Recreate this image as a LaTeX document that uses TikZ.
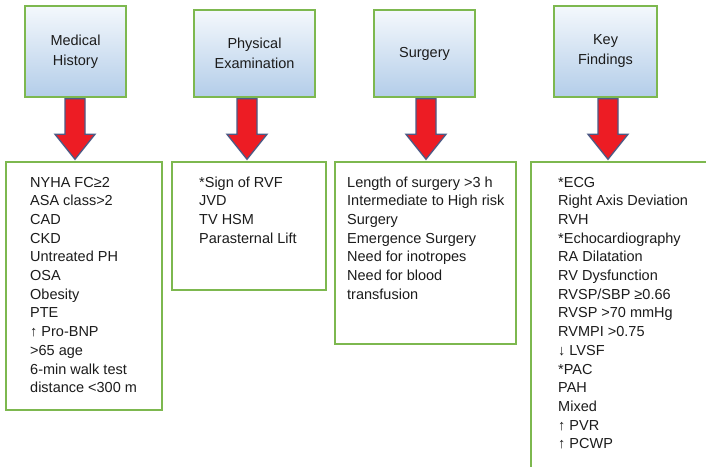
\documentclass[tikz,border=0pt]{standalone}
\usepackage{fontspec}
\setmainfont{Liberation Sans}
\usetikzlibrary{calc}

\definecolor{boxgreen}{HTML}{7DB84F}
\definecolor{hdrtop}{HTML}{F4F8FC}
\definecolor{hdrbot}{HTML}{B3CDE9}
\definecolor{arrred}{HTML}{ED1C24}
\definecolor{arredge}{HTML}{4C5A85}
\definecolor{inktext}{HTML}{1C1C1C}

\tikzset{
  header/.style={draw=boxgreen, line width=1.4pt, top color=hdrtop, bottom color=hdrbot,
    text=inktext, align=center, inner sep=0pt,
    font=\fontsize{14.5}{20}\selectfont},
  listbox/.style={draw=boxgreen, line width=1.4pt, fill=white},
  listtext/.style={anchor=base west, inner sep=0pt, text=inktext},
  blockarrow/.style={fill=arrred, draw=arredge, line width=1.3pt, line join=miter},
}

% list of lines set with a fixed baseline step; the node's base is the first line
\newcommand{\listlines}[1]{\parbox[t]{190pt}{\fontsize{14.5}{18.7}\selectfont\raggedright #1}}

% red block arrow from a start point (top of shaft) down to its tip
\newcommand{\blockdown}[2]{%
  \draw[blockarrow] ($(#1)+(-10,0)$) -- ($(#2)+(-10,-25)$) -- ($(#2)+(-20,-25)$)
    -- (#2) -- ($(#2)+(20,-25)$) -- ($(#2)+(10,-25)$) -- ($(#1)+(10,0)$) -- cycle;}

\begin{document}
\begin{tikzpicture}[x=1pt, y=-1pt]
\useasboundingbox (0,0) rectangle (706,466);
\fill[white] (0,0) rectangle (706,466);

% header boxes
\node[header, minimum width=101pt, minimum height=91pt] (mh) at (75.5,51.5) {Medical\\History};
\node[header, minimum width=121pt, minimum height=87pt] (pe) at (254.5,53.5) {Physical\\Examination};
\node[header, minimum width=101pt, minimum height=87pt] (su) at (424.5,53.5) {Surgery};
\node[header, minimum width=103pt, minimum height=91pt] (kf) at (605.5,51.5) {Key\\Findings};

% list boxes
\node[listbox, minimum width=156pt, minimum height=248pt] (mhl) at (84,286) {};
\node[listbox, minimum width=154pt, minimum height=128pt] (pel) at (249,226) {};
\node[listbox, minimum width=181pt, minimum height=182pt] (sul) at (425.5,253) {};
\node[listbox, minimum width=200pt, minimum height=312pt] (kfl) at (631,318) {};

% block arrows between each header and its list
\coordinate (s1) at ([yshift=-1pt]mh.south -| 75,0);  \coordinate (t1) at ([yshift=2pt]mhl.north -| 75,0);
\coordinate (s2) at ([yshift=-1pt]pe.south -| 247,0); \coordinate (t2) at ([yshift=2pt]pel.north -| 247,0);
\coordinate (s3) at ([yshift=-1pt]su.south -| 426,0); \coordinate (t3) at ([yshift=2pt]sul.north -| 426,0);
\coordinate (s4) at ([yshift=-1pt]kf.south -| 608,0); \coordinate (t4) at ([yshift=2pt]kfl.north -| 608,0);
\blockdown{s1}{t1}
\blockdown{s2}{t2}
\blockdown{s3}{t3}
\blockdown{s4}{t4}

% list contents
\node[listtext] (mht) at (30,187) {\listlines{NYHA FC≥2\\ASA class>2\\CAD\\CKD\\Untreated PH\\OSA\\Obesity\\PTE\\↑ Pro-BNP\\>65 age\\6-min walk test\\distance <300 m}};
\node[listtext] (pet) at (199,187) {\listlines{*Sign of RVF\\JVD\\TV HSM\\Parasternal Lift}};
\node[listtext] (sut) at (347,187) {\listlines{Length of surgery >3 h\\Intermediate to High risk\\Surgery\\Emergence Surgery\\Need for inotropes\\Need for blood\\transfusion}};
\node[listtext] (kft) at (558,187) {\listlines{*ECG\\Right Axis Deviation\\RVH\\{*}Echocardiography\\RA Dilatation\\RV Dysfunction\\RVSP/SBP ≥0.66\\RVSP >70 mmHg\\RVMPI >0.75\\↓ LVSF\\{*}PAC\\PAH\\Mixed\\↑ PVR\\↑ PCWP}};
\end{tikzpicture}
\end{document}
